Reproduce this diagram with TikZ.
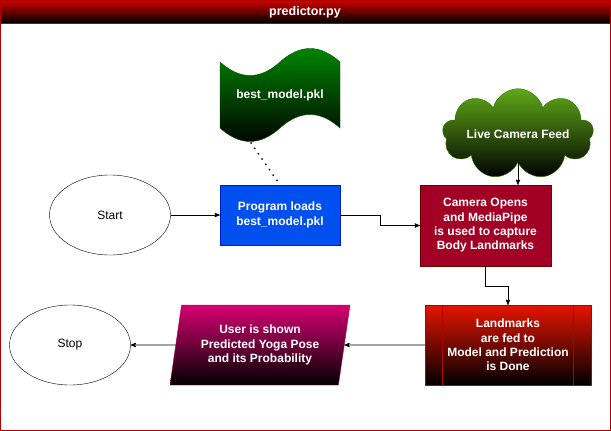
\documentclass[tikz,border=0pt]{standalone}
\usepackage{fontspec}
\setmainfont{Liberation Sans}
\usetikzlibrary{arrows,shapes.geometric,shapes.symbols,positioning}

\definecolor{framered}{HTML}{B20000}
\definecolor{headred}{HTML}{CC0000}
\definecolor{loadblue}{HTML}{0050EF}
\definecolor{loadborder}{HTML}{001DBC}
\definecolor{camred}{HTML}{A20025}
\definecolor{camborder}{HTML}{6F0000}
\definecolor{lmred}{HTML}{E51400}
\definecolor{pinkish}{HTML}{D80073}
\definecolor{pinkborder}{HTML}{A50040}
\definecolor{tapegreen}{HTML}{008A00}
\definecolor{tapeborder}{HTML}{005700}
\definecolor{cloudgreen}{HTML}{60A917}
\definecolor{cloudborder}{HTML}{2D7600}

\begin{document}
\begin{tikzpicture}[x=1pt,y=-1pt,>=stealth',
    font=\fontsize{12}{14.3}\selectfont,
    endpoint/.style={ellipse, draw, minimum width=121pt, minimum height=80pt},
    link/.style={draw=black, line width=0.9pt},
    whitetext/.style={text=white, font=\fontsize{12}{14.3}\selectfont\bfseries, align=center}]
    \useasboundingbox (0,0) rectangle (611,431);

    % frame and title bar
    \shade[top color=headred, bottom color=black] (0.5,0.5) rectangle (610.5,23);
    \draw[framered] (0.5,0.5) rectangle (610.5,430.5);
    \draw[framered] (0.5,23) -- (610.5,23);
    \node[whitetext, font=\fontsize{12.5}{15}\selectfont\bfseries] (title) at (305,12) {predictor.py};

    % stored model (tape)
    \shade[draw=tapeborder, top color=tapegreen, bottom color=black]
        (220,62) .. controls (240,80) and (260,80) .. (280,62)
                 .. controls (300,44) and (320,44) .. (340,62)
        -- (340,128) .. controls (320,110) and (300,110) .. (280,128)
                 .. controls (260,146) and (240,146) .. (220,128) -- cycle;
    \node[whitetext] (model) at (280,95) {best\_model.pkl};
    \coordinate (modelfoot) at (251,143);

    \node[endpoint] (start) at (110,215) {Start};
    \node[rectangle, draw=loadborder, fill=loadblue, whitetext, minimum width=120pt, minimum height=60pt] (load) at (280,215) {Program loads\\best\_model.pkl};
    \node[rectangle, draw=camborder, fill=camred, whitetext, minimum width=131pt, minimum height=81pt] (camera) at (485.5,225.5) {Camera Opens\\and MediaPipe\\is used to capture\\Body Landmarks};
    \node[cloud, cloud puffs=9, aspect=2.6, draw=cloudborder, top color=cloudgreen, bottom color=black, whitetext,
          minimum width=142pt, minimum height=46pt, inner sep=0pt] (feed) at (518,134) {Live Camera Feed};
    \node[rectangle, draw=framered, top color=lmred, bottom color=black, whitetext, minimum width=166pt, minimum height=80pt] (predict) at (508,345) {Landmarks\\are fed to\\Model and Prediction\\is Done};
    \draw[framered] ([xshift=17pt]predict.north west) -- ([xshift=17pt]predict.south west);
    \draw[framered] ([xshift=-18pt]predict.north east) -- ([xshift=-18pt]predict.south east);
    \node[trapezium, trapezium left angle=76, trapezium right angle=104, trapezium stretches body,
          draw=pinkborder, top color=pinkish, bottom color=black, whitetext,
          minimum width=180pt, minimum height=80pt] (result) at (260,345) {User is shown\\Predicted Yoga Pose\\and its Probability};
    \node[endpoint] (stop) at (70,345) {Stop};

    \draw[link, ->] (start) -- (load);
    \draw[link, ->] (load.east) -- ++(40,0) |- (camera.west);
    \draw[link, ->] (feed.south) -- (camera.north -| feed.south);
    \draw[link, ->] (camera.south) -- ++(0,20) -| (predict.north);
    \draw[link, ->] (predict.west) -- (result.east);
    \draw[link, ->] (result.west) -- (stop.east);
    \draw[line width=2pt, line cap=round, dash pattern=on 0pt off 6.5pt] (modelfoot) -- (load.north);
\end{tikzpicture}
\end{document}
